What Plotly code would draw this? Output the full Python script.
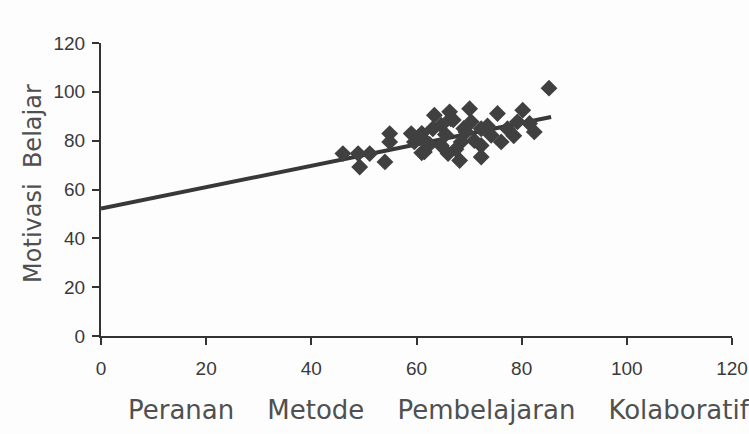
import plotly.graph_objects as go

# Data
peranan = [85.2, 46.0, 48.9, 49.2, 51.1, 54.0, 54.9, 54.9, 59.0, 61.0, 61.0,
           66.3, 70.1, 75.4, 80.2, 64.7, 63.1, 60.9, 59.6, 61.5, 66.0, 68.2,
           69.4, 72.3, 72.3, 72.3, 74.2, 76.1, 77.3, 79.2, 82.4, 81.5, 70.4,
           68.5, 64.7, 63.4, 67.0, 67.5, 65.5, 71.0, 73.5, 62.5, 69.0, 66.5, 78.5]
motivasi = [101.5, 74.7, 74.7, 69.2, 74.7, 71.3, 82.9, 79.5, 82.9, 83.0, 75.0,
            91.8, 93.1, 91.1, 92.5, 86.3, 84.9, 81.5, 79.5, 75.4, 74.7, 71.9,
            83.6, 84.9, 78.0, 73.3, 82.2, 79.5, 84.9, 87.7, 83.6, 87.0, 87.7,
            79.5, 78.0, 90.4, 88.5, 76.5, 82.5, 80.0, 86.0, 78.5, 85.0, 89.0, 82.0]

# Regression line
intercept = 52.2
slope = 0.438
trend_x = [0, 85.6]

x_ticks = [0, 20, 40, 60, 80, 100, 120]
y_ticks = [0, 20, 40, 60, 80, 100, 120]

trend_y = [intercept + slope * v for v in trend_x]

fig = go.Figure()
fig.add_trace(go.Scatter(
    x=trend_x, y=trend_y, mode="lines",
    line=dict(color="#383838", width=4), showlegend=False, hoverinfo="skip"))
fig.add_trace(go.Scatter(
    x=peranan, y=motivasi, mode="markers",
    marker=dict(symbol="diamond", size=13, color="#404040", line=dict(width=0)),
    showlegend=False))

axis_common = dict(
    showgrid=False, zeroline=False, showline=True, linecolor="#333333", linewidth=2,
    ticks="outside", ticklen=7, tickwidth=2, tickcolor="#333333", automargin=False,
    tickfont=dict(family="Liberation Sans, Arial", size=19, color="#3a3a3a"),
)

fig.update_layout(
    width=749, height=434,
    margin=dict(l=101, r=17, t=43, b=98),
    paper_bgcolor="#fdfdfd", plot_bgcolor="#fdfdfd",
    xaxis=dict(range=[0, 120], tickvals=x_ticks, ticklabelstandoff=7, **axis_common),
    yaxis=dict(range=[0, 120], tickvals=y_ticks, ticklabelstandoff=3, **axis_common),
    annotations=[
        dict(text="Peranan    Metode    Pembelajaran    Kolaboratif", xref="paper", yref="paper",
             x=0.535, y=-0.2526, xanchor="center", yanchor="middle", showarrow=False,
             font=dict(family="DejaVu Sans", size=26, color="#505050")),
        dict(text="Motivasi  Belajar", xref="paper", yref="paper",
             x=-0.108, y=0.522, xanchor="center", yanchor="middle", showarrow=False,
             textangle=-90,
             font=dict(family="DejaVu Sans", size=24, color="#505050")),
    ],
)

fig.write_html(
    "out.html",
    config={"displayModeBar": False},
    post_script="document.body.style.margin='0';document.body.style.overflow='hidden';",
)
